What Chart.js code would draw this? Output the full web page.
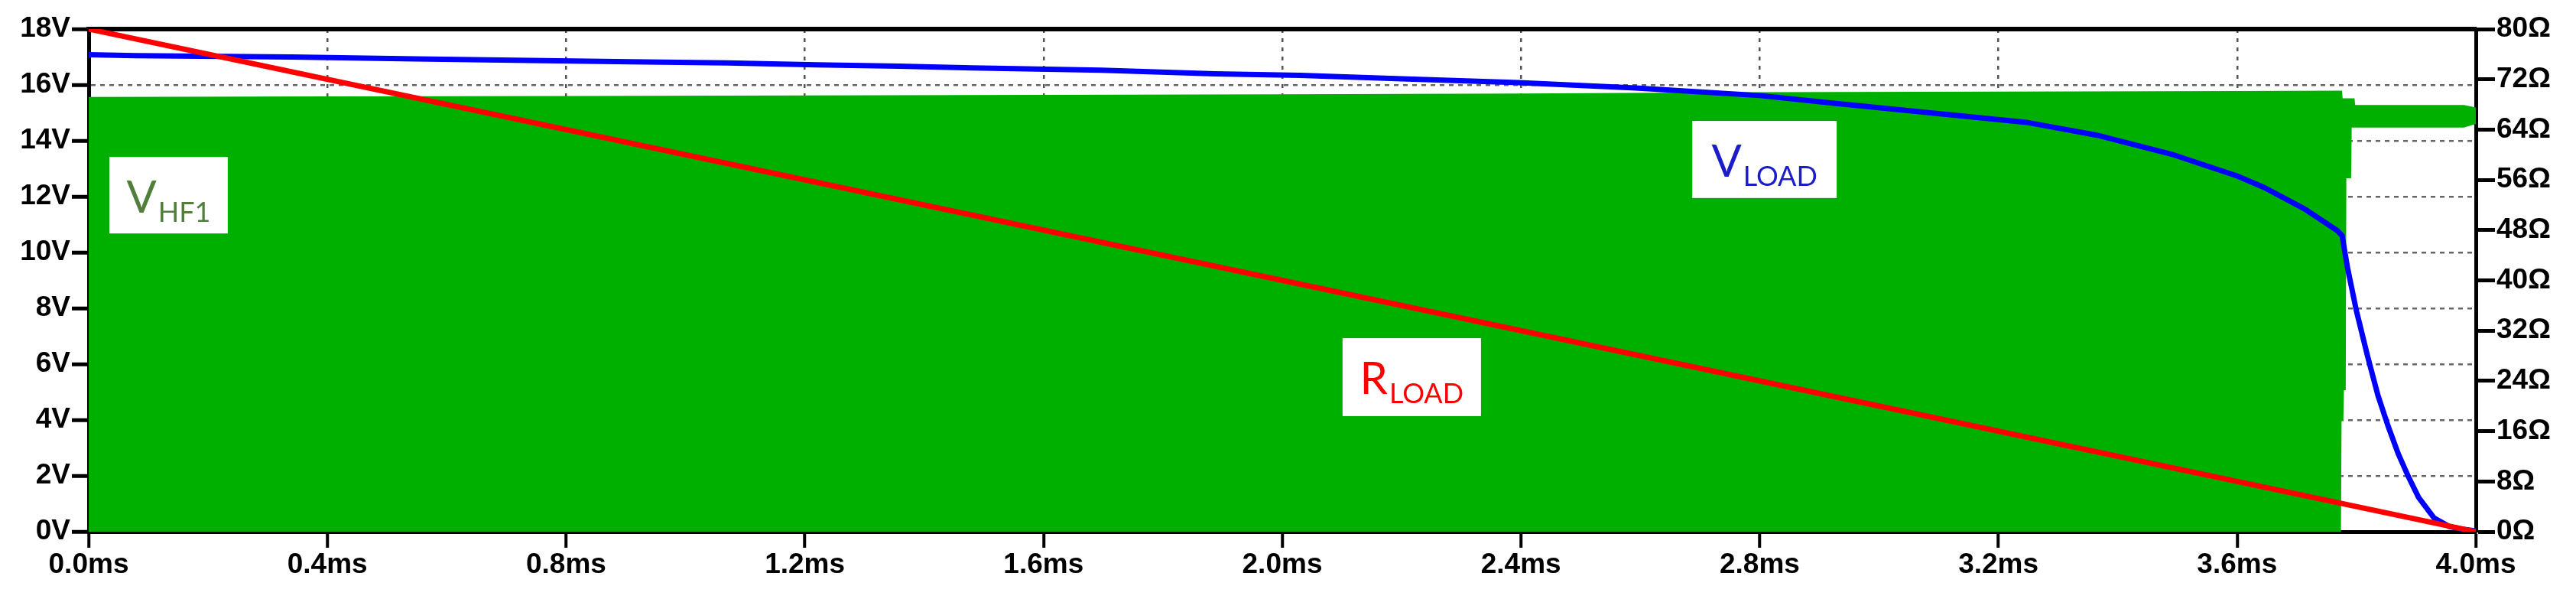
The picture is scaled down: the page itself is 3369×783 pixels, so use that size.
<!DOCTYPE html>
<html>
<head>
<meta charset="utf-8">
<script src="https://cdn.jsdelivr.net/npm/chart.js@4.4.1/dist/chart.umd.min.js"></script>
<style>
html,body{margin:0;padding:0;background:#fff;}
canvas{display:block;}
</style>
</head>
<body>
<canvas id="c" width="3369" height="783"></canvas>
<script>
// ---- tick values / labels ----
const xTickValues = [0, 0.4, 0.8, 1.2, 1.6, 2.0, 2.4, 2.8, 3.2, 3.6, 4.0];
const xTickLabels = ['0.0ms','0.4ms','0.8ms','1.2ms','1.6ms','2.0ms','2.4ms','2.8ms','3.2ms','3.6ms','4.0ms'];
const vTickValues = [0, 2, 4, 6, 8, 10, 12, 14, 16, 18];
const vTickLabels = ['0V','2V','4V','6V','8V','10V','12V','14V','16V','18V'];
const rTickValues = [0, 8, 16, 24, 32, 40, 48, 56, 64, 72, 80];
const rTickLabels = ['0Ω','8Ω','16Ω','24Ω','32Ω','40Ω','48Ω','56Ω','64Ω','72Ω','80Ω'];

// ---- V_LOAD (V) ----
const vloadTime   = [0, 0.078, 0.339, 0.548, 0.738, 0.908, 1.07, 1.22, 1.357, 1.481, 1.697, 1.887, 2.03, 2.2, 2.396, 2.592, 2.80, 2.925, 3.054, 3.247, 3.365, 3.49, 3.60, 3.645, 3.713, 3.768, 3.776, 3.785, 3.80, 3.819, 3.836, 3.853, 3.870, 3.887, 3.904, 3.93, 3.955, 3.98, 4.0];
const vloadValues = [17.08, 17.05, 17.0, 16.93, 16.88, 16.83, 16.79, 16.72, 16.67, 16.61, 16.53, 16.40, 16.34, 16.22, 16.08, 15.89, 15.62, 15.34, 15.07, 14.66, 14.2, 13.52, 12.74, 12.33, 11.56, 10.78, 10.6, 9.45, 7.9, 6.25, 4.88, 3.78, 2.79, 1.97, 1.23, 0.49, 0.19, 0.08, 0.03];

// ---- R_LOAD (Ω) ----
const rloadTime   = [0, 1, 2, 3, 4];
const rloadValues = [80, 60, 40, 20, 0];

// ---- V_HF1 envelope (V) ----
const vhfTime  = [0, 0.4, 0.8, 1.2, 1.6, 2.0, 2.4, 2.8, 3.2, 3.6, 3.774, 3.775, 3.778, 3.779, 3.782, 3.783, 3.791, 3.792, 3.795, 3.796, 3.98, 4.0];
const vhfUpper = [15.53, 15.55, 15.56, 15.58, 15.6, 15.62, 15.65, 15.7, 15.72, 15.74, 15.75, 15.48, 15.48, 15.48, 15.48, 15.48, 15.48, 15.48, 15.48, 15.24, 15.24, 15.15];
const vhfLower = [0, 0, 0, 0, 0, 0, 0, 0, 0, 0, 0, 3.97, 3.97, 5.07, 5.07, 12.66, 12.66, 14.47, 14.47, 14.47, 14.47, 14.6];

// ---- annotation texts ----
const labelMain = ['V', 'V', 'R'];
const labelSub  = ['HF1', 'LOAD', 'LOAD'];

const toPts = (xs, ys) => xs.map((x, i) => ({x: x, y: ys[i]}));

const annotationLayout = [
  {color:'#4f7f3b', x0:0.0346, x1:0.233, y0:13.42, y1:10.68},
  {color:'#1c1cc8', x0:2.687, x1:2.929, y0:14.71, y1:11.95},
  {color:'#ff0000', x0:2.101, x1:2.333, y0:6.93, y1:4.14}
];

const labelPlugin = {
  id: 'boxLabels',
  afterDatasetsDraw(chart) {
    const ctx = chart.ctx;
    const xs = chart.scales.x, ys = chart.scales.y;
    annotationLayout.forEach((a, i) => {
      const l = xs.getPixelForValue(a.x0), r = xs.getPixelForValue(a.x1);
      const t = ys.getPixelForValue(a.y0), b = ys.getPixelForValue(a.y1);
      ctx.save();
      ctx.fillStyle = '#ffffff';
      ctx.fillRect(l, t, r - l, b - t);
      ctx.fillStyle = a.color;
      ctx.textBaseline = 'alphabetic';
      ctx.font = '58px Lato';
      const wm = ctx.measureText(labelMain[i]).width;
      ctx.font = '36px Lato';
      const ws = ctx.measureText(labelSub[i]).width;
      const start = (l + r) / 2 - (wm + 2 + ws) / 2;
      ctx.font = '58px Lato';
      ctx.fillText(labelMain[i], start, t + 73);
      ctx.font = '36px Lato';
      ctx.fillText(labelSub[i], start + wm + 2, t + 85);
      ctx.restore();
    });
  }
};

const tickFont = {family: '"Liberation Sans", Arial, sans-serif', size: 37, weight: 'bold'};

new Chart(document.getElementById('c'), {
  type: 'line',
  data: {
    datasets: [
      {
        label: 'RLOAD', data: toPts(rloadTime, rloadValues), yAxisID: 'y1', xAxisID: 'x',
        borderColor: '#ff0000', borderWidth: 7, pointRadius: 0, fill: false, order: 0, tension: 0
      },
      {
        label: 'VLOAD', data: toPts(vloadTime, vloadValues), yAxisID: 'y', xAxisID: 'x',
        borderColor: '#0000ff', borderWidth: 7, pointRadius: 0, fill: false, order: 1, tension: 0
      },
      {
        label: 'VHF1', data: toPts(vhfTime, vhfUpper), yAxisID: 'y', xAxisID: 'x',
        borderColor: '#00b000', backgroundColor: '#00b000', borderWidth: 3, pointRadius: 0,
        fill: 3, order: 2, tension: 0
      },
      {
        label: 'VHF1 min', data: toPts(vhfTime, vhfLower), yAxisID: 'y', xAxisID: 'x',
        borderColor: '#00b000', borderWidth: 0, pointRadius: 0, fill: false, order: 3, tension: 0
      }
    ]
  },
  options: {
    responsive: false,
    animation: false,
    devicePixelRatio: 1,
    layout: {padding: 0},
    plugins: {legend: {display: false}, tooltip: {enabled: false}},
    scales: {
      x: {
        type: 'linear', position: 'bottom', min: 0, max: 4,
        afterBuildTicks: s => { s.ticks = xTickValues.map(v => ({value: v})); },
        afterFit: s => { s.height = 88; },
        ticks: {
          font: tickFont, color: '#000', padding: 1, maxRotation: 0, autoSkip: false,
          callback: v => xTickLabels[xTickValues.indexOf(v)]
        },
        grid: {
          color: '#555555', lineWidth: 2.5, drawTicks: true, tickLength: 21, tickWidth: 4, tickColor: '#000'
        },
        border: {display: true, color: '#000', width: 5, dash: [5, 7]}
      },
      xTop: {
        type: 'linear', position: 'top', min: 0, max: 4,
        afterFit: s => { s.height = 38; },
        ticks: {display: false},
        grid: {display: false, drawTicks: false},
        border: {display: true, color: '#000', width: 6}
      },
      y: {
        type: 'linear', position: 'left', min: 0, max: 18,
        afterBuildTicks: s => { s.ticks = vTickValues.map(v => ({value: v})); },
        afterFit: s => { s.width = 116; },
        ticks: {
          font: tickFont, color: '#000', padding: 2,
          callback: v => vTickLabels[vTickValues.indexOf(v)]
        },
        grid: {
          color: '#666666', lineWidth: 2.5, drawTicks: true, tickLength: 22, tickWidth: 5, tickColor: '#000'
        },
        border: {display: true, color: '#000', width: 5, dash: [6, 6]}
      },
      y1: {
        type: 'linear', position: 'right', min: 0, max: 80,
        afterBuildTicks: s => { s.ticks = rTickValues.map(v => ({value: v})); },
        afterFit: s => { s.width = 131; },
        ticks: {
          font: tickFont, color: '#000', padding: 2,
          callback: v => rTickLabels[rTickValues.indexOf(v)]
        },
        grid: {
          drawOnChartArea: false, drawTicks: true, tickLength: 25, tickWidth: 5, tickColor: '#000', color: '#000'
        },
        border: {display: true, color: '#000', width: 5}
      }
    }
  },
  plugins: [labelPlugin]
});
</script>
</body>
</html>
